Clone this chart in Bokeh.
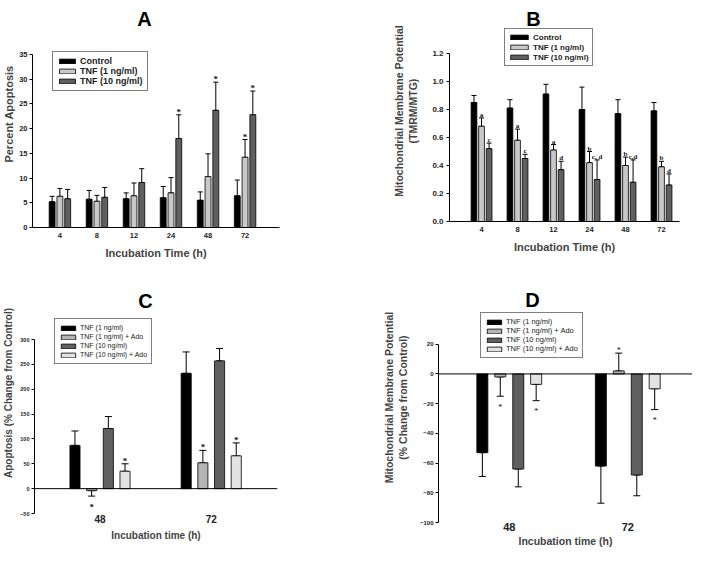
from bokeh.plotting import figure
from bokeh.models import (ColumnDataSource, Whisker, Legend, LegendItem, Label, Span,
                          FixedTicker, TeeHead, NumeralTickFormatter)
from bokeh.layouts import column, row
from bokeh.embed import file_html
from bokeh.resources import INLINE

FONT = "Liberation Sans"

# ---------------- data ----------------
times_ab = ["4", "8", "12", "24", "48", "72"]
series_ab = ["Control", "TNF (1 ng/ml)", "TNF (10 ng/ml)"]

a_control = [5.2, 5.7, 5.8, 6.0, 5.5, 6.4]
a_control_err = [1.1, 1.8, 1.2, 2.3, 1.7, 3.2]
a_tnf1 = [6.3, 5.3, 6.4, 7.0, 10.3, 14.2]
a_tnf1_err = [1.6, 1.2, 2.6, 3.1, 4.6, 3.6]
a_tnf10 = [5.8, 6.1, 9.1, 18.0, 23.7, 22.8]
a_tnf10_err = [1.9, 2.0, 2.8, 4.8, 5.7, 4.8]
a_marks_tnf1 = ["", "", "", "", "", "*"]
a_marks_tnf10 = ["", "", "", "*", "*", "*"]

b_control = [0.85, 0.81, 0.91, 0.80, 0.77, 0.79]
b_control_err = [0.05, 0.06, 0.07, 0.16, 0.10, 0.06]
b_tnf1 = [0.68, 0.58, 0.51, 0.42, 0.40, 0.39]
b_tnf1_err = [0.06, 0.08, 0.04, 0.08, 0.06, 0.04]
b_tnf10 = [0.52, 0.45, 0.37, 0.30, 0.28, 0.26]
b_tnf10_err = [0.04, 0.03, 0.06, 0.14, 0.16, 0.08]
b_marks_tnf1 = ["a", "a", "a", "b", "b", "b"]
b_marks_tnf10 = ["c", "c", "d", "c, d", "c,d", "d"]

times_cd = ["48", "72"]
series_cd = ["TNF (1 ng/ml)", "TNF (1 ng/ml) + Ado", "TNF (10 ng/ml)", "TNF (10 ng/ml) + Ado"]

c_tnf1 = [87, 232]
c_tnf1_err = [29, 43]
c_tnf1_ado = [-4, 52]
c_tnf1_ado_err = [11, 25]
c_tnf10 = [121, 257]
c_tnf10_err = [24, 25]
c_tnf10_ado = [35, 66]
c_tnf10_ado_err = [15, 26]
c_marks = [["", ""], ["*", "*"], ["", ""], ["*", "*"]]

d_tnf1 = [-53, -62]
d_tnf1_err = [16, 25]
d_tnf1_ado = [-2, 2]
d_tnf1_ado_err = [13, 12]
d_tnf10 = [-64, -68]
d_tnf10_err = [12, 14]
d_tnf10_ado = [-7, -10]
d_tnf10_ado_err = [11, 14]
d_marks = [["", ""], ["*", "*"], ["", ""], ["*", "*"]]

colors_ab = ["#000000", "#c8c8c8", "#5f5f5f"]
colors_cd = ["#000000", "#b4b4b4", "#5f5f5f", "#e2e2e2"]


def make_fig(w, h, xr, yr, borders):
    p = figure(width=w, height=h, x_range=xr, y_range=yr, output_backend="svg",
               toolbar_location=None, title=None, frame_align=False,
               min_border_left=borders[0], min_border_right=borders[1],
               min_border_top=borders[2], min_border_bottom=borders[3])
    p.outline_line_color = None
    p.xgrid.visible = False
    p.ygrid.visible = False
    p.background_fill_color = "white"
    p.border_fill_color = "white"
    return p


def style_axes(p, yticks, ylabel, xlabel, n_groups, xlabels, ytick_size, xtick_size,
               ylabel_size, xlabel_size, ylabel_standoff, xlabel_standoff, xtick_standoff,
               show_xline=True):
    ya = p.yaxis[0]
    ya.ticker = FixedTicker(ticks=yticks)
    ya.bounds = (yticks[0], yticks[-1])
    ya.minor_tick_line_color = None
    ya.major_tick_out = 3
    ya.major_tick_in = 0
    ya.major_label_standoff = 2
    ya.major_label_text_font = FONT
    ya.major_label_text_font_style = "bold"
    ya.major_label_text_font_size = ytick_size
    ya.major_label_text_color = "#222222"
    ya.axis_label = ylabel
    ya.axis_label_text_font = FONT
    ya.axis_label_text_font_style = "bold"
    ya.axis_label_text_font_size = ylabel_size
    ya.axis_label_standoff = ylabel_standoff
    ya.axis_line_color = "black"
    ya.major_tick_line_color = "black"

    xa = p.xaxis[0]
    xa.ticker = FixedTicker(ticks=list(range(n_groups)))
    xa.major_label_overrides = {i: lab for i, lab in enumerate(xlabels)}
    xa.minor_tick_line_color = None
    xa.major_tick_line_color = None
    xa.major_tick_out = 0
    xa.major_tick_in = 0
    xa.major_label_standoff = xtick_standoff
    xa.major_label_text_font = FONT
    xa.major_label_text_font_style = "bold"
    xa.major_label_text_font_size = xtick_size
    xa.major_label_text_color = "#222222"
    xa.axis_label = xlabel
    xa.axis_label_text_font = FONT
    xa.axis_label_text_font_style = "bold"
    xa.axis_label_text_font_size = xlabel_size
    xa.axis_label_standoff = xlabel_standoff
    xa.axis_line_color = "black" if show_xline else None


def add_bars(p, values, errors, marks, colors, offsets, width, cap, mark_size, mark_style):
    renderers = []
    for k, (vals, errs, col, off) in enumerate(zip(values, errors, colors, offsets)):
        xs = [i + off for i in range(len(vals))]
        ends = [v + e if v >= 0 else v - e for v, e in zip(vals, errs)]
        src = ColumnDataSource(dict(
            x=xs, top=vals,
            lo=[min(v, e) for v, e in zip(vals, ends)],
            hi=[max(v, e) for v, e in zip(vals, ends)],
        ))
        r = p.vbar(x="x", top="top", bottom=0, width=width, source=src,
                   fill_color=col, line_color="black", line_width=0.8)
        renderers.append(r)
        w = Whisker(source=src, base="x", lower="lo", upper="hi", dimension="height",
                    line_color="black", line_width=1,
                    upper_head=TeeHead(size=cap, line_color="black", line_width=1),
                    lower_head=TeeHead(size=cap, line_color="black", line_width=1))
        p.add_layout(w)
        mk = marks[k]
        if mk is not None:
            msrc = ColumnDataSource(dict(
                x=[x for x, m in zip(xs, mk) if m],
                y=[e for e, m in zip(ends, mk) if m],
                t=[m for m in mk if m],
                dy=[(-3 if e >= 0 else 11) for e, m in zip(ends, mk) if m],
            ))
            p.text(x="x", y="y", text="t", y_offset="dy", source=msrc,
                   text_align="center", text_baseline="alphabetic",
                   text_font=FONT, text_font_size=mark_size, text_font_style=mark_style,
                   text_color="#111111")
    return renderers


def add_legend(p, renderers, labels, loc, font_size, style, glyph_w, glyph_h, row_h, padding):
    items = [LegendItem(label=lab, renderers=[r]) for lab, r in zip(labels, renderers)]
    lg = Legend(items=items, location=loc, orientation="vertical",
                label_text_font=FONT, label_text_font_size=font_size,
                label_text_font_style=style, label_text_color="#222222",
                glyph_width=glyph_w, glyph_height=glyph_h, label_height=row_h,
                label_standoff=3, padding=padding, spacing=0, margin=0,
                border_line_color="black", border_line_width=1,
                background_fill_color="white", background_fill_alpha=1.0)
    p.add_layout(lg)


def add_title(p, text, sx, sy):
    p.add_layout(Label(x=sx, y=sy, x_units="screen", y_units="screen", text=text,
                       text_font=FONT, text_font_size="20px", text_font_style="bold",
                       text_align="center", text_baseline="alphabetic", text_color="black"))


# ---------------- panel A ----------------
pA = make_fig(346, 272, (-0.74, 5.93), (0, 45.92), (27, 67, 0, 45))
style_axes(pA, [0, 5, 10, 15, 20, 25, 30, 35], "Percent Apoptosis", "Incubation Time (h)",
           6, times_ab, "7.5px", "7.5px", "11px", "11px", 1, 6, 5)
rA = add_bars(pA, [a_control, a_tnf1, a_tnf10], [a_control_err, a_tnf1_err, a_tnf10_err],
              [None, a_marks_tnf1, a_marks_tnf10], colors_ab, [-0.21, 0, 0.21], 0.16, 5,
              "9px", "bold")
add_legend(pA, rA, series_ab, (20, 136), "9px", "bold", 20, 6, 10, 4)
add_title(pA, "A", 112, 209)

# ---------------- panel B ----------------
pB = make_fig(346, 272, (-0.89, 5.5), (0, 1.5786), (103, 13, 0, 51))
style_axes(pB, [0, 0.2, 0.4, 0.6, 0.8, 1.0, 1.2],
           "Mitochondrial Membrane Potential\n(TMRM/MTG)", "Incubation Time (h)",
           6, times_ab, "8px", "7.5px", "10.5px", "11px", 10, 6, 5)
pB.yaxis[0].formatter = NumeralTickFormatter(format="0.0")
pB.yaxis[0].major_label_standoff = 3
rB = add_bars(pB, [b_control, b_tnf1, b_tnf10], [b_control_err, b_tnf1_err, b_tnf10_err],
              [None, b_marks_tnf1, b_marks_tnf10], colors_ab, [-0.21, 0, 0.21], 0.16, 5,
              "7px", "bold")
add_legend(pB, rB, series_ab, (55, 155), "8px", "bold", 22, 6, 10, 3)
add_title(pB, "B", 84, 203)

# ---------------- panel C ----------------
offs_cd = [-0.225, -0.075, 0.075, 0.225]
pC = make_fig(346, 277, (-0.589, 1.596), (-50, 434.8), (29, 69, 0, 36))
style_axes(pC, [-50, 0, 50, 100, 150, 200, 250, 300], "Apoptosis (% Change from Control)",
           "Incubation time (h)", 2, times_cd, "5.5px", "10px", "10px", "10px", 3, 4, 1,
           show_xline=False)
pC.add_layout(Span(location=0, dimension="width", line_color="black", line_width=1))
rC = add_bars(pC, [c_tnf1, c_tnf1_ado, c_tnf10, c_tnf10_ado],
              [c_tnf1_err, c_tnf1_ado_err, c_tnf10_err, c_tnf10_ado_err],
              c_marks, colors_cd, offs_cd, 0.091, 7, "9px", "bold")
add_legend(pC, rC, series_cd, (20, 149), "7px", "normal", 18, 6, 9, 4)
add_title(pC, "C", 111, 213)

# ---------------- panel D ----------------
pD = make_fig(346, 277, (-0.597, 1.546), (-100, 68.27), (92, 0, 0, 26))
style_axes(pD, [-100, -80, -60, -40, -20, 0, 20],
           "Mitochondrial Membrane Potential\n(% Change from Control)",
           "Incubation time (h)", 2, times_cd, "6px", "11px", "10.5px", "10.5px", 8, 1, 0,
           show_xline=False)
pD.add_layout(Span(location=0, dimension="width", line_color="black", line_width=1))
rD = add_bars(pD, [d_tnf1, d_tnf1_ado, d_tnf10, d_tnf10_ado],
              [d_tnf1_err, d_tnf1_ado_err, d_tnf10_err, d_tnf10_ado_err],
              d_marks, colors_cd, [-0.227, -0.076, 0.076, 0.227], 0.093, 7, "8px", "normal")
add_legend(pD, rD, series_cd, (42, 164), "7.5px", "normal", 18, 6, 9, 4)
add_title(pD, "D", 94, 223)

layout = column(row(pA, pB, spacing=0), row(pC, pD, spacing=0), spacing=0)

with open("out.html", "w") as f:
    f.write(file_html(layout, INLINE))
